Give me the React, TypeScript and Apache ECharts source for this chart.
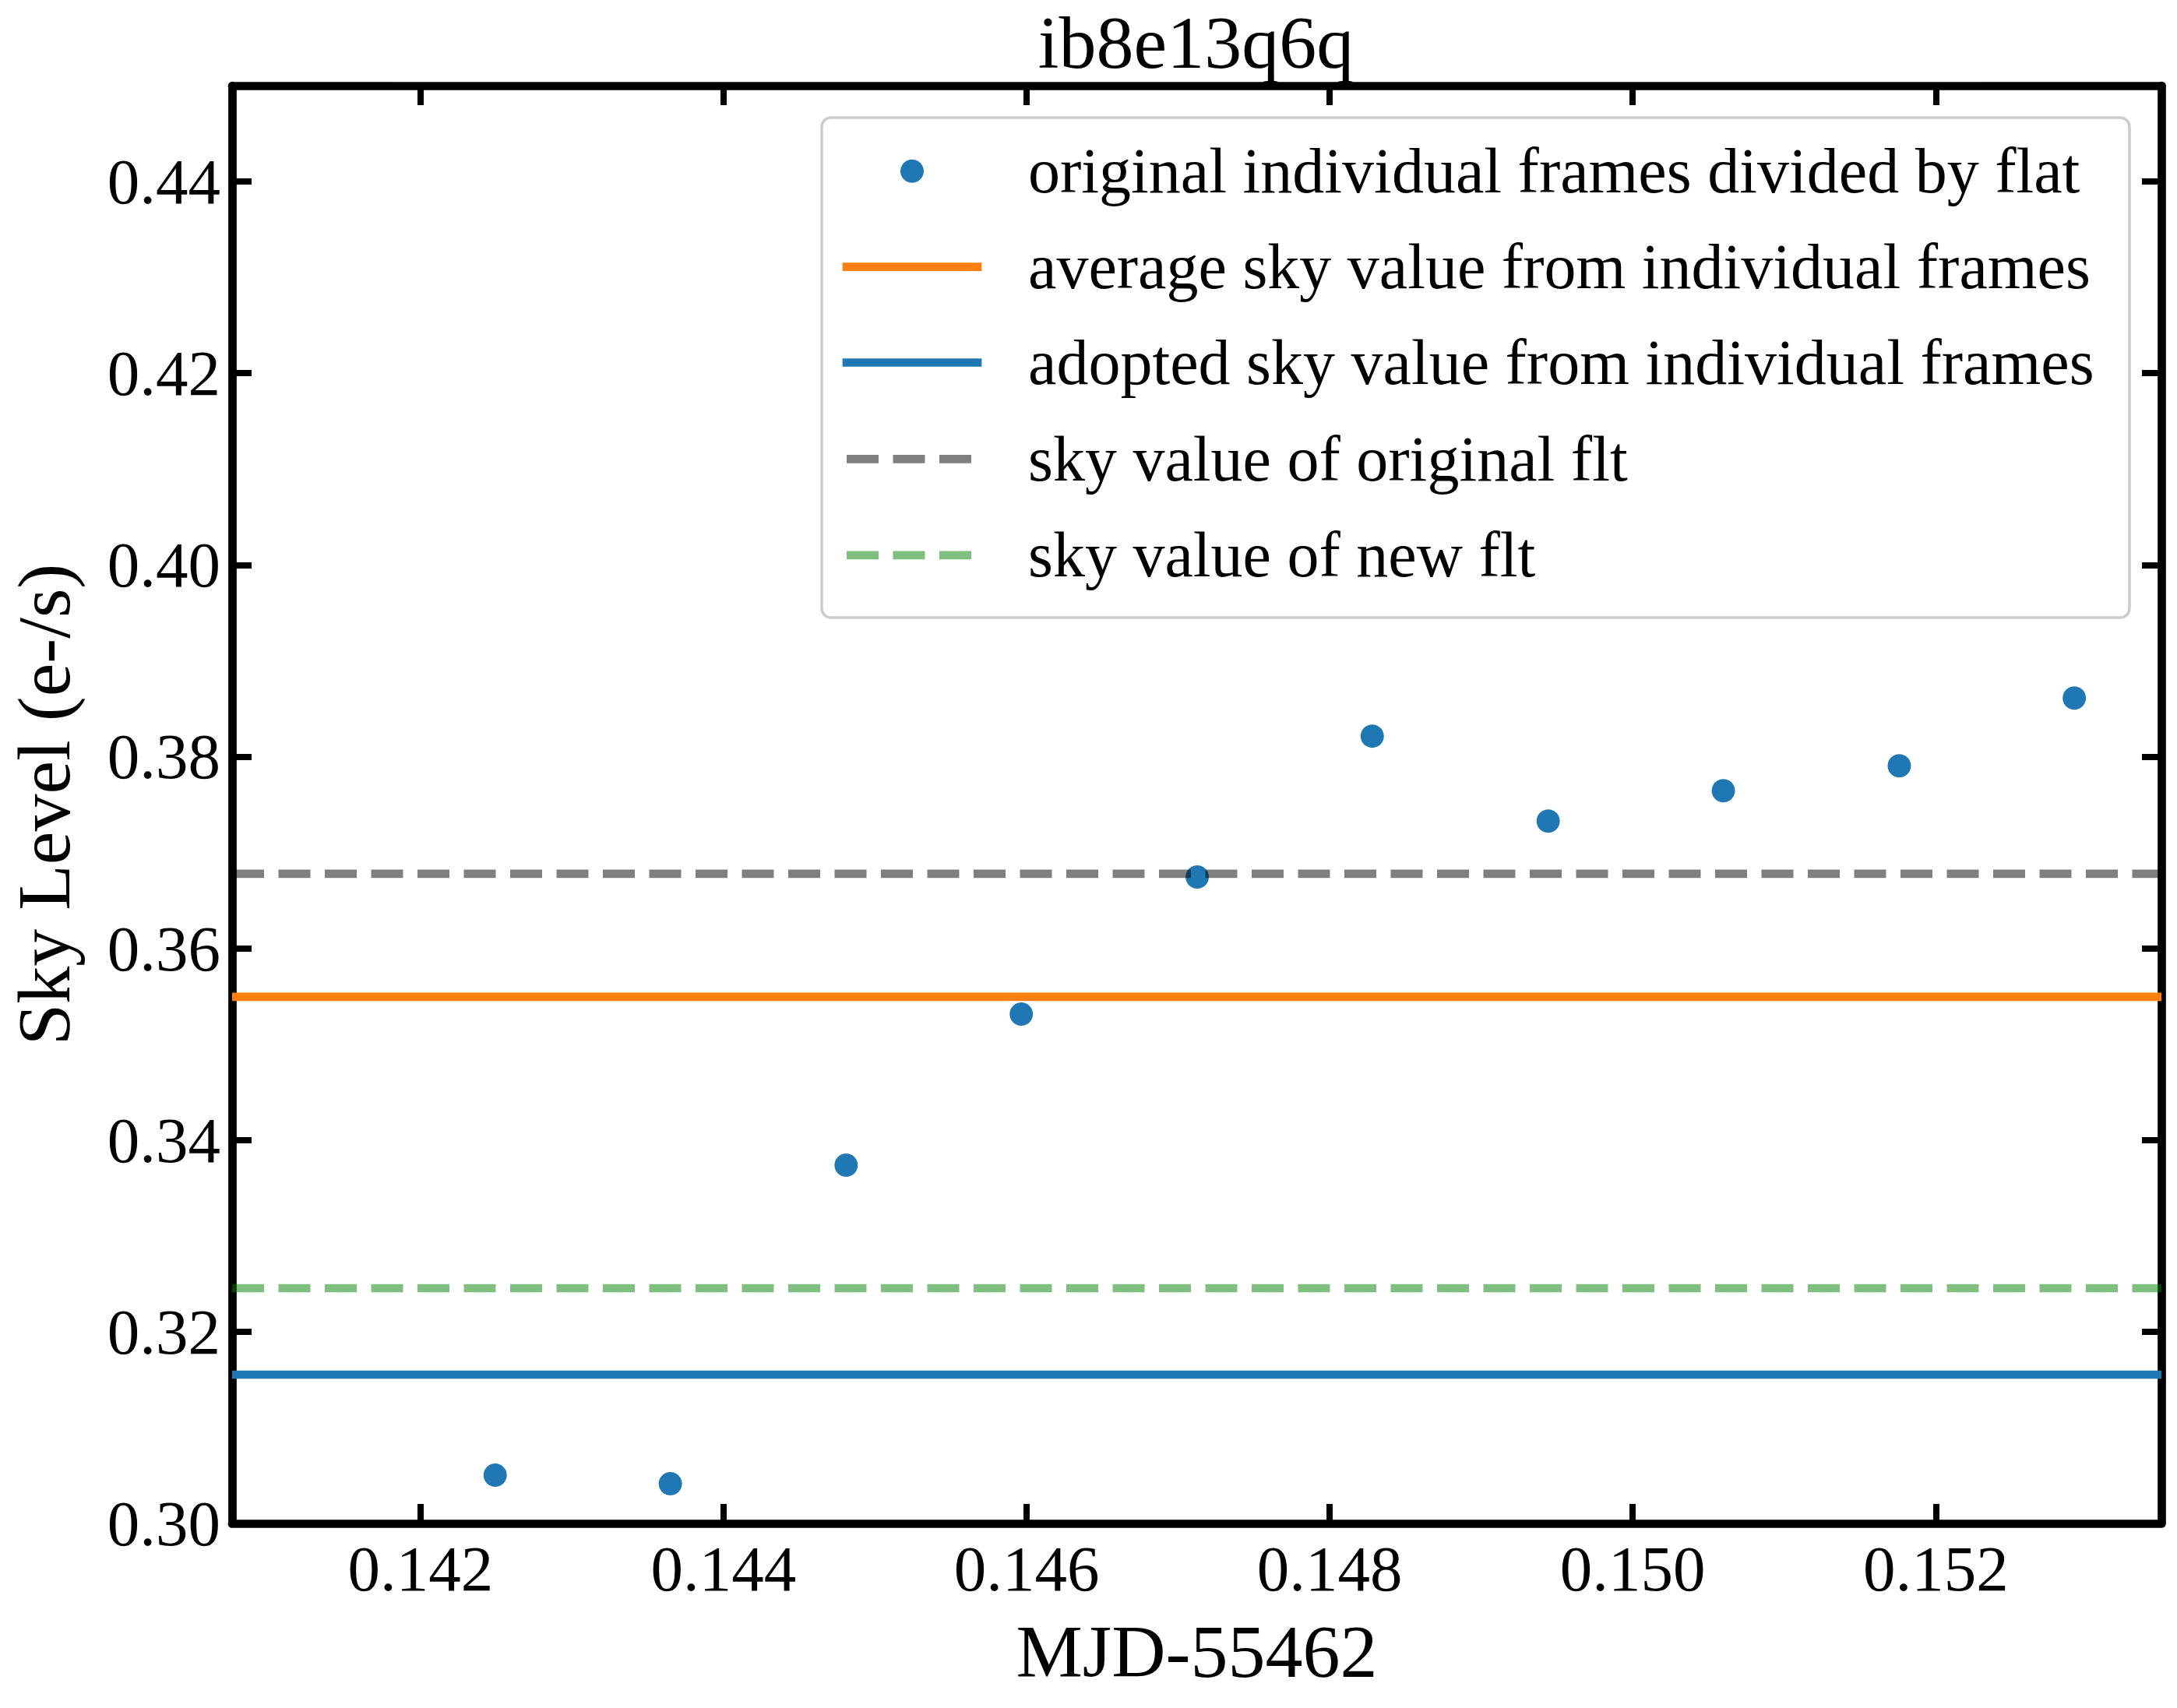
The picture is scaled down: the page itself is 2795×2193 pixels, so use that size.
import React, { useEffect, useRef } from "react";
import * as echarts from "echarts";

const titleText = "ib8e13q6q";
const xAxisTitle = "MJD-55462";
const yAxisTitle = "Sky Level (e-/s)";

const mjdOffsets = [0.142493, 0.143649, 0.144809, 0.145965, 0.147126, 0.148281, 0.149442, 0.150598, 0.151759, 0.152914];
const skyLevels = [0.30504, 0.30415, 0.33738, 0.35315, 0.36745, 0.38214, 0.37328, 0.37645, 0.37905, 0.38612];

const averageSky = 0.35494;
const adoptedSky = 0.31552;
const originalFltSky = 0.36778;
const newFltSky = 0.32454;

const xLimits = [0.140757, 0.153489];
const yLimits = [0.3, 0.45];
const xTickValues = [0.142, 0.144, 0.146, 0.148, 0.15, 0.152];
const yTickValues = [0.3, 0.32, 0.34, 0.36, 0.38, 0.4, 0.42, 0.44];

const legendLabels = [
  "original individual frames divided by flat",
  "average sky value from individual frames",
  "adopted sky value from individual frames",
  "sky value of original flt",
  "sky value of new flt",
];

const W = 2795;
const H = 2193;
const FONT = "'Liberation Serif', 'Times New Roman', 'DejaVu Serif', serif";
const BLUE = "#1f77b4";
const ORANGE = "#ff7f0e";
const GRAY = "rgba(0,0,0,0.5)";
const GREEN = "rgba(0,128,0,0.5)";
const LW = 10.7;
const DASH = [41, 18.5];

function hLine(name: string, value: number, color: string, dashed: boolean, z: number) {
  return {
    type: "line",
    name,
    data: [
      [xLimits[0], value],
      [xLimits[1], value],
    ],
    symbol: "none",
    showSymbol: false,
    silent: true,
    z,
    lineStyle: { color, width: LW, type: dashed ? DASH : "solid", cap: "butt" },
    emphasis: { disabled: true },
  };
}

export default function App() {
  const ref = useRef<HTMLDivElement>(null);
  useEffect(() => {
    if (!ref.current) return;
    const chart = echarts.init(ref.current, undefined, { renderer: "svg", width: W, height: H });

    const axisLineStyle = { show: true, lineStyle: { color: "#000", width: LW } };
    const tickStyle = { lineStyle: { color: "#000", width: 8 } };

    const legendRowY = [219.7, 342.6, 465.5, 589.4, 712.9];
    const hx1 = 1087;
    const hx2 = 1255;
    const legendColors = [BLUE, ORANGE, BLUE, GRAY, GREEN];
    const legendElements: any[] = [
      {
        type: "rect",
        shape: { x: 1055, y: 151, width: 1679, height: 642, r: 12 },
        style: { fill: "rgba(255,255,255,0.8)", stroke: "#cccccc", lineWidth: 3.5 },
        z: 100,
      },
      {
        type: "circle",
        shape: { cx: (hx1 + hx2) / 2, cy: legendRowY[0], r: 15 },
        style: { fill: BLUE },
        z: 101,
      },
    ];
    for (let i = 1; i < 5; i++) {
      const dashed = i >= 3;
      legendElements.push({
        type: "line",
        shape: { x1: hx1, y1: legendRowY[i], x2: hx2, y2: legendRowY[i] },
        style: {
          stroke: legendColors[i],
          lineWidth: LW,
          lineDash: dashed ? DASH : null,
          lineCap: dashed ? "butt" : "square",
        },
        z: 101,
      });
    }
    legendLabels.forEach((t, i) => {
      legendElements.push({
        type: "text",
        x: 1320,
        y: legendRowY[i],
        style: {
          text: t,
          fontSize: 82,
          fontFamily: FONT,
          fill: "#000",
          align: "left",
          verticalAlign: "middle",
        },
        z: 101,
      });
    });

    chart.setOption({
      animation: false,
      backgroundColor: "#ffffff",
      grid: { left: 296, right: 20, top: 110, bottom: 237, containLabel: false },
      xAxis: [
        {
          type: "value",
          position: "bottom",
          min: xLimits[0],
          max: xLimits[1],
          name: xAxisTitle,
          nameLocation: "middle",
          nameGap: 116,
          nameTextStyle: { fontSize: 96, fontFamily: FONT, color: "#000" },
          axisLine: axisLineStyle,
          axisTick: { show: true, inside: true, length: 25, customValues: xTickValues, ...tickStyle },
          axisLabel: {
            show: true,
            customValues: xTickValues,
            formatter: (v: number) => v.toFixed(3),
            fontSize: 83,
            fontFamily: FONT,
            color: "#000",
            margin: 16,
          },
          splitLine: { show: false },
        },
        {
          type: "value",
          position: "top",
          min: xLimits[0],
          max: xLimits[1],
          axisLine: axisLineStyle,
          axisTick: { show: true, inside: true, length: 25, customValues: xTickValues, ...tickStyle },
          axisLabel: { show: false },
          splitLine: { show: false },
        },
      ],
      yAxis: [
        {
          type: "value",
          position: "left",
          min: yLimits[0],
          max: yLimits[1],
          name: yAxisTitle,
          nameLocation: "middle",
          nameGap: 194,
          nameRotate: 90,
          nameTextStyle: { fontSize: 96, fontFamily: FONT, color: "#000" },
          axisLine: axisLineStyle,
          axisTick: { show: true, inside: true, length: 25, customValues: yTickValues, ...tickStyle },
          axisLabel: {
            show: true,
            customValues: yTickValues,
            formatter: (v: number) => v.toFixed(2),
            fontSize: 83,
            fontFamily: FONT,
            color: "#000",
            margin: 15,
          },
          splitLine: { show: false },
        },
        {
          type: "value",
          position: "right",
          min: yLimits[0],
          max: yLimits[1],
          axisLine: axisLineStyle,
          axisTick: { show: true, inside: true, length: 25, customValues: yTickValues, ...tickStyle },
          axisLabel: { show: false },
          splitLine: { show: false },
        },
      ],
      series: [
        {
          type: "scatter",
          name: legendLabels[0],
          data: mjdOffsets.map((x, i) => [x, skyLevels[i]]),
          symbol: "circle",
          symbolSize: 30,
          itemStyle: { color: BLUE, opacity: 1 },
          z: 2,
          silent: true,
          emphasis: { disabled: true },
        },
        hLine(legendLabels[1], averageSky, ORANGE, false, 3),
        hLine(legendLabels[2], adoptedSky, BLUE, false, 3),
        hLine(legendLabels[3], originalFltSky, GRAY, true, 3),
        hLine(legendLabels[4], newFltSky, GREEN, true, 3),
      ],
      graphic: [
        {
          type: "text",
          x: 1535.5,
          y: 54,
          style: {
            text: titleText,
            fontSize: 96,
            fontFamily: FONT,
            fill: "#000",
            align: "center",
            verticalAlign: "middle",
          },
          z: 100,
        },
        ...legendElements,
      ],
    });
    return () => chart.dispose();
  }, []);

  return (
    <div
      ref={ref}
      style={{ position: "fixed", left: 0, top: 0, width: W, height: H, background: "#fff" }}
    />
  );
}
